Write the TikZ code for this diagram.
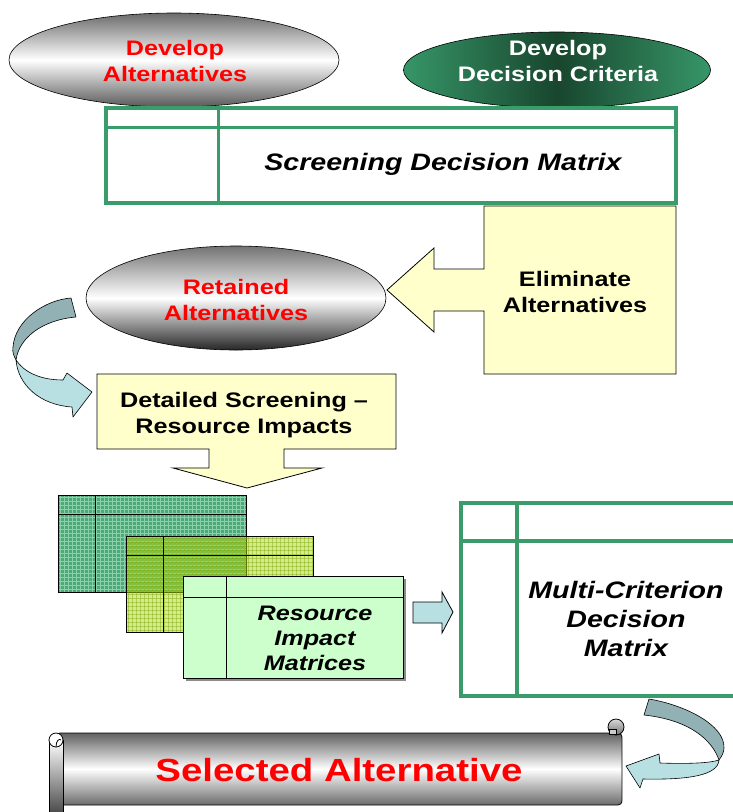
\documentclass[tikz,border=0pt]{standalone}
\usepackage{fontspec}
\setmainfont[FakeStretch=1.2]{Liberation Sans}
\usetikzlibrary{shapes.geometric,shadings}

\definecolor{mgreen}{RGB}{58,155,107}
\definecolor{paleyellow}{RGB}{255,255,204}
\definecolor{arrowback}{RGB}{146,177,181}
\definecolor{arrowfront}{RGB}{184,224,227}
\definecolor{mintgreen}{RGB}{204,255,204}
\definecolor{deepgreen}{RGB}{24,70,46}
\definecolor{leafgreen}{RGB}{55,150,104}
\definecolor{gridgreen}{RGB}{78,168,120}
\definecolor{gridline}{RGB}{138,208,170}
\definecolor{limegreen}{RGB}{175,215,25}
\definecolor{limeline}{RGB}{120,165,5}

\tikzset{
  lbl/.style={font=\bfseries\fontsize{21}{26}\selectfont, align=center, inner sep=0pt},
  mlbl/.style={font=\bfseries\itshape\fontsize{23.8}{29}\selectfont, align=center, inner sep=0pt},
  rlbl/.style={font=\bfseries\itshape\fontsize{21}{25}\selectfont, align=center, inner sep=0pt},
  bigred/.style={font=\bfseries\fontsize{32}{36}\selectfont, text=red, inner sep=0pt},
  blockarrow/.style={draw=black, line width=0.8pt, line join=miter},
  matframe/.style={draw=mgreen, line width=3.5pt},
  thinline/.style={draw=black, line width=1pt},
  bandedge/.style={draw=black, line width=0.6pt, line join=round},
  oval/.style={ellipse, draw=black, line width=0.6pt, inner sep=0pt},
}

\begin{document}
\begin{tikzpicture}[x=1pt, y=-1pt]
\useasboundingbox (0,0) rectangle (733,812);

% ---------- top ovals ----------
\node[oval, minimum width=330pt, minimum height=94pt,
      top color=black!58, bottom color=black!65, middle color=white] (devalt) at (174,60) {};
\node[lbl, text=red] (devalttxt) at (175,61) {Develop\\Alternatives};

\node[oval, minimum width=307pt, minimum height=76pt,
      left color=leafgreen, right color=leafgreen, middle color=deepgreen] (crit) at (557,70) {};
\node[lbl, text=white] (crittxt) at (558,61) {Develop\\Decision Criteria};

% ---------- screening matrix ----------
\draw[matframe, fill=white] (106,108) rectangle (676,203);
\draw[matframe, line width=3pt] (218,108) -- (218,203);
\draw[matframe, line width=3pt] (106,127) -- (676,127);
\node[mlbl] (screentxt) at (443,164) {Screening Decision Matrix};

% ---------- eliminate callout ----------
\draw[blockarrow, fill=paleyellow]
  (484,206) -- (676,206) -- (676,374) -- (484,374) -- (484,311) -- (434,311)
  -- (434,332) -- (387,290) -- (434,248) -- (434,269) -- (484,269) -- cycle;
\node[lbl] (elimtxt) at (575,292) {Eliminate\\Alternatives};

% ---------- retained oval ----------
\node[oval, minimum width=300pt, minimum height=104pt,
      top color=black!55, bottom color=black!85, middle color=white] (retain) at (236,298) {};
\node[lbl, text=red] (retaintxt) at (236,300) {Retained\\Alternatives};

% ---------- curved arrow: retained -> detailed screening ----------
\path[bandedge, fill=arrowback]
  (71,298) .. controls (45,300) and (15,320) .. (13,347)
  .. controls (12,352) and (14,356) .. (16,360)
  .. controls (19,338) and (42,320) .. (76,317) -- cycle;
\path[bandedge, fill=arrowfront]
  (16,360) .. controls (18,385) and (40,405) .. (72,407)
  -- (73,417) -- (92,392) -- (67,373) -- (63,380)
  .. controls (40,380) and (24,372) .. (16,360) -- cycle;

% ---------- detailed screening callout ----------
\draw[blockarrow, fill=paleyellow]
  (97,374) -- (396,374) -- (396,449) -- (284,449) -- (284,468) -- (322,468)
  -- (247,488) -- (173,468) -- (209,468) -- (209,449) -- (97,449) -- cycle;
\node[lbl] (detailtxt) at (244,415) {Detailed Screening --\\Resource Impacts};

% ---------- stacked impact matrices ----------
\begin{scope}
  \clip (58,495) rectangle (246,592);
  \fill[gridgreen] (58,495) rectangle (246,592);
  \foreach \x in {60,64,...,246} \draw[gridline, line width=0.7pt] (\x,495) -- (\x,592);
  \foreach \y in {497,501,...,592} \draw[gridline, line width=0.7pt] (58,\y) -- (246,\y);
\end{scope}
\draw[thinline] (58,495) rectangle (246,592);
\draw[thinline] (95,495) -- (95,592);
\draw[thinline] (58,514) -- (246,514);

\begin{scope}
  \clip (126,536) rectangle (313,632);
  \fill[limegreen, fill opacity=0.5] (126,536) rectangle (313,632);
  \foreach \x in {128,132,...,313} \draw[limeline, line width=0.6pt, draw opacity=0.4] (\x,536) -- (\x,632);
  \foreach \y in {538,542,...,632} \draw[limeline, line width=0.6pt, draw opacity=0.4] (126,\y) -- (313,\y);
\end{scope}
\draw[thinline] (126,536) rectangle (313,632);
\draw[thinline] (163,536) -- (163,632);
\draw[thinline] (126,555) -- (313,555);

\fill[black!45] (186,579) rectangle (406,681);
\draw[thinline, fill=mintgreen] (183,576) rectangle (403,678);
\draw[thinline] (226,576) -- (226,678);
\draw[thinline] (183,597) -- (403,597);
\node[rlbl] (impacttxt) at (315,638) {Resource\\Impact\\Matrices};

% ---------- small arrow to multi-criterion matrix ----------
\draw[blockarrow, fill=arrowfront]
  (413,602) -- (442,602) -- (442,592) -- (453,612) -- (442,633) -- (442,623) -- (413,623) -- cycle;

% ---------- multi-criterion matrix ----------
\begin{scope}
  \clip (0,0) rectangle (733,812);
  \draw[matframe, fill=white] (461,503) rectangle (760,696);
  \draw[matframe] (517,503) -- (517,696);
  \draw[matframe] (461,541) -- (760,541);
\end{scope}
\node[mlbl] (multitxt) at (626,619) {Multi-Criterion\\Decision\\Matrix};

% ---------- curved arrow: matrix -> selected alternative ----------
\path[bandedge, fill=arrowback]
  (649,699) .. controls (685,705) and (725,725) .. (724,748)
  .. controls (724,752) and (722,756) .. (719,760)
  .. controls (712,740) and (690,720) .. (644,715) -- cycle;
\path[bandedge, fill=arrowfront]
  (719,760) .. controls (718,775) and (690,780) .. (643,779)
  -- (640,788) -- (626,766) -- (659,754) -- (660,763)
  .. controls (690,764) and (710,763) .. (719,760) -- cycle;

% ---------- scroll ----------
\draw[line width=0.8pt, rounded corners=4pt,
      top color=black!62, bottom color=black!58, middle color=white]
  (56,733) rectangle (622,805);
% right curl
\draw[line width=0.8pt, top color=black!15, bottom color=black!55] (616,727) circle (8pt);
\draw[line width=0.8pt, fill=black!20] (609,729) rectangle (616,734);
% left roll
\draw[line width=0.8pt, top color=white, bottom color=black!70] (49,740) rectangle (63,812);
\draw[line width=0.8pt, fill=white] (56,740) circle (7pt);
\draw[line width=0.8pt] (56,747) .. controls (56,741) and (59,738) .. (61,740);
\node[bigred] (selected) at (339,770) {Selected Alternative};
\end{tikzpicture}
\end{document}
